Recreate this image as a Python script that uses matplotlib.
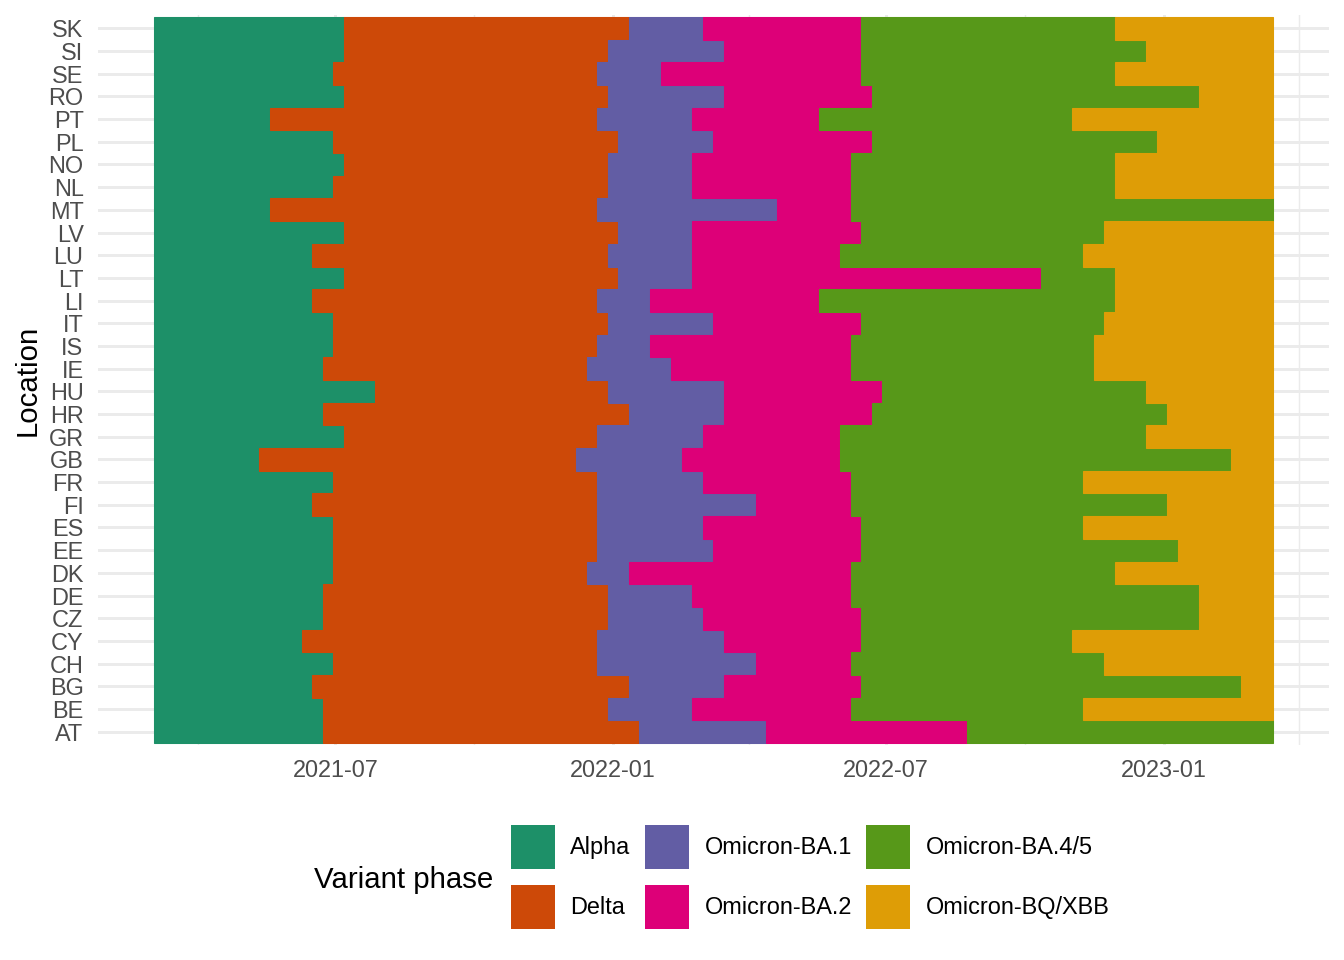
import numpy as np
import matplotlib
matplotlib.use("Agg")
import matplotlib.pyplot as plt
import matplotlib.dates as mdates
from matplotlib.patches import Patch

plt.rcParams['font.family'] = ['Liberation Sans', 'DejaVu Sans']

# ---------------- data ----------------
locations = ["AT", "BE", "BG", "CH", "CY", "CZ", "DE", "DK", "EE", "ES", "FI", "FR",
             "GB", "GR", "HR", "HU", "IE", "IS", "IT", "LI", "LT", "LU", "LV", "MT",
             "NL", "NO", "PL", "PT", "RO", "SE", "SI", "SK"]

phases = ["Alpha", "Delta", "Omicron-BA.1", "Omicron-BA.2", "Omicron-BA.4/5", "Omicron-BQ/XBB"]
phase_colors = ["#1D9068", "#CD4908", "#625DA4", "#DD0078", "#579819", "#DE9D06"]

first_week = "2021-03-06"   # first weekly observation (week ending)
last_week = "2023-03-11"    # last weekly observation (week ending)

# first week of each phase per location (same order as `locations`)
delta_start = ["2021-06-26", "2021-06-26", "2021-06-19", "2021-07-03", "2021-06-12", "2021-06-26",
               "2021-06-26", "2021-07-03", "2021-07-03", "2021-07-03", "2021-06-19", "2021-07-03",
               "2021-05-15", "2021-07-10", "2021-06-26", "2021-07-31", "2021-06-26", "2021-07-03",
               "2021-07-03", "2021-06-19", "2021-07-10", "2021-06-19", "2021-07-10", "2021-05-22",
               "2021-07-03", "2021-07-10", "2021-07-03", "2021-05-22", "2021-07-10", "2021-07-03",
               "2021-07-10", "2021-07-10"]
ba1_start = ["2022-01-22", "2022-01-01", "2022-01-15", "2021-12-25", "2021-12-25", "2022-01-01",
             "2022-01-01", "2021-12-18", "2021-12-25", "2021-12-25", "2021-12-25", "2021-12-25",
             "2021-12-11", "2021-12-25", "2022-01-15", "2022-01-01", "2021-12-18", "2021-12-25",
             "2022-01-01", "2021-12-25", "2022-01-08", "2022-01-01", "2022-01-08", "2021-12-25",
             "2022-01-01", "2022-01-01", "2022-01-08", "2021-12-25", "2022-01-01", "2021-12-25",
             "2022-01-01", "2022-01-15"]
ba2_start = ["2022-04-16", "2022-02-26", "2022-03-19", "2022-04-09", "2022-03-19", "2022-03-05",
             "2022-02-26", "2022-01-15", "2022-03-12", "2022-03-05", "2022-04-09", "2022-03-05",
             "2022-02-19", "2022-03-05", "2022-03-19", "2022-03-19", "2022-02-12", "2022-01-29",
             "2022-03-12", "2022-01-29", "2022-02-26", "2022-02-26", "2022-02-26", "2022-04-23",
             "2022-02-26", "2022-02-26", "2022-03-12", "2022-02-26", "2022-03-19", "2022-02-05",
             "2022-03-19", "2022-03-05"]
ba45_start = ["2022-08-27", "2022-06-11", "2022-06-18", "2022-06-11", "2022-06-18", "2022-06-18",
              "2022-06-11", "2022-06-11", "2022-06-18", "2022-06-18", "2022-06-11", "2022-06-11",
              "2022-06-04", "2022-06-04", "2022-06-25", "2022-07-02", "2022-06-11", "2022-06-11",
              "2022-06-18", "2022-05-21", "2022-10-15", "2022-06-04", "2022-06-18", "2022-06-11",
              "2022-06-11", "2022-06-11", "2022-06-25", "2022-05-21", "2022-06-25", "2022-06-18",
              "2022-06-18", "2022-06-18"]
bqxbb_start = [None, "2022-11-12", "2023-02-25", "2022-11-26", "2022-11-05", "2023-01-28",
               "2023-01-28", "2022-12-03", "2023-01-14", "2022-11-12", "2023-01-07", "2022-11-12",
               "2023-02-18", "2022-12-24", "2023-01-07", "2022-12-24", "2022-11-19", "2022-11-19",
               "2022-11-26", "2022-12-03", "2022-12-03", "2022-11-12", "2022-11-26", None,
               "2022-12-03", "2022-12-03", "2022-12-31", "2022-11-05", "2023-01-28", "2022-12-03",
               "2022-12-24", "2022-12-03"]

x_major = ["2021-07-01", "2022-01-01", "2022-07-01", "2023-01-01"]
x_minor = ["2021-04-01", "2021-10-01", "2022-04-01", "2022-10-01", "2023-04-01"]

# ---------------- figure ----------------
W, H = 1344, 960
fig = plt.figure(figsize=(7, 5), dpi=192)
pl, pr, pt, pb = 97.7, 1329.0, 14.7, 745.3
ax = fig.add_axes([pl / W, 1 - pb / H, (pr - pl) / W, (pb - pt) / H])

def dnum(s):
    return mdates.date2num(np.datetime64(s))

end_num = dnum(last_week) + 7
start_cols = [[first_week] * len(locations), delta_start, ba1_start, ba2_start, ba45_start, bqxbb_start]

for p, (name, col) in enumerate(zip(phases, phase_colors)):
    ys, lefts, widths = [], [], []
    for i in range(len(locations)):
        s = start_cols[p][i]
        if s is None:
            continue
        e = None
        for q in range(p + 1, len(phases)):
            if start_cols[q][i] is not None:
                e = dnum(start_cols[q][i])
                break
        if e is None:
            e = end_num
        ys.append(i)
        lefts.append(dnum(s) - 3.5)
        widths.append(e - dnum(s))
    ax.barh(ys, widths, left=lefts, height=1.0, color=col, edgecolor=col,
            linewidth=0.4, zorder=2)

# limits with ggplot-like expansion
x0 = dnum(first_week) - 3.5
x1 = dnum(last_week) + 3.5
ex = 0.05 * (x1 - x0)
ax.set_xlim(x0 - ex, x1 + ex)
ax.set_ylim(-0.6, len(locations) - 1 + 0.6)

ax.set_yticks(range(len(locations)))
ax.set_yticklabels(locations)
ax.set_xticks([dnum(d) for d in x_major])
ax.set_xticks([dnum(d) for d in x_minor], minor=True)
ax.xaxis.set_major_formatter(mdates.DateFormatter("%Y-%m"))

for s in ax.spines.values():
    s.set_visible(False)
ax.set_facecolor("white")
ax.grid(True, which="major", axis="both", color="#EBEBEB", linewidth=1.1, zorder=0)
ax.grid(True, which="minor", axis="x", color="#EBEBEB", linewidth=0.55, zorder=0)
ax.set_axisbelow(True)

ax.tick_params(axis="both", which="both", length=0, labelsize=8.8, labelcolor="#4D4D4D")
ax.tick_params(axis="x", pad=5.1)
ax.tick_params(axis="y", pad=5.3)

ax.set_ylabel("Location", fontsize=11, color="black")
ax.yaxis.set_label_coords((28 - pl) / (pr - pl), 0.5)
ax.yaxis.label.set_va("center")

# legend
handles = [Patch(facecolor=c, edgecolor="none") for c in phase_colors]
fig.legend(handles, phases, ncol=3, loc="upper left",
           bbox_to_anchor=(511 / W, 1 - 825 / H), frameon=False,
           borderpad=0, borderaxespad=0, handlelength=1.86, handleheight=2.485,
           handletextpad=0.67, columnspacing=0.62, labelspacing=0.7, fontsize=8.8)
fig.text(314 / W, 1 - 880 / H, "Variant phase", fontsize=11, ha="left", va="center")

fig.savefig("out.png", dpi=192)
